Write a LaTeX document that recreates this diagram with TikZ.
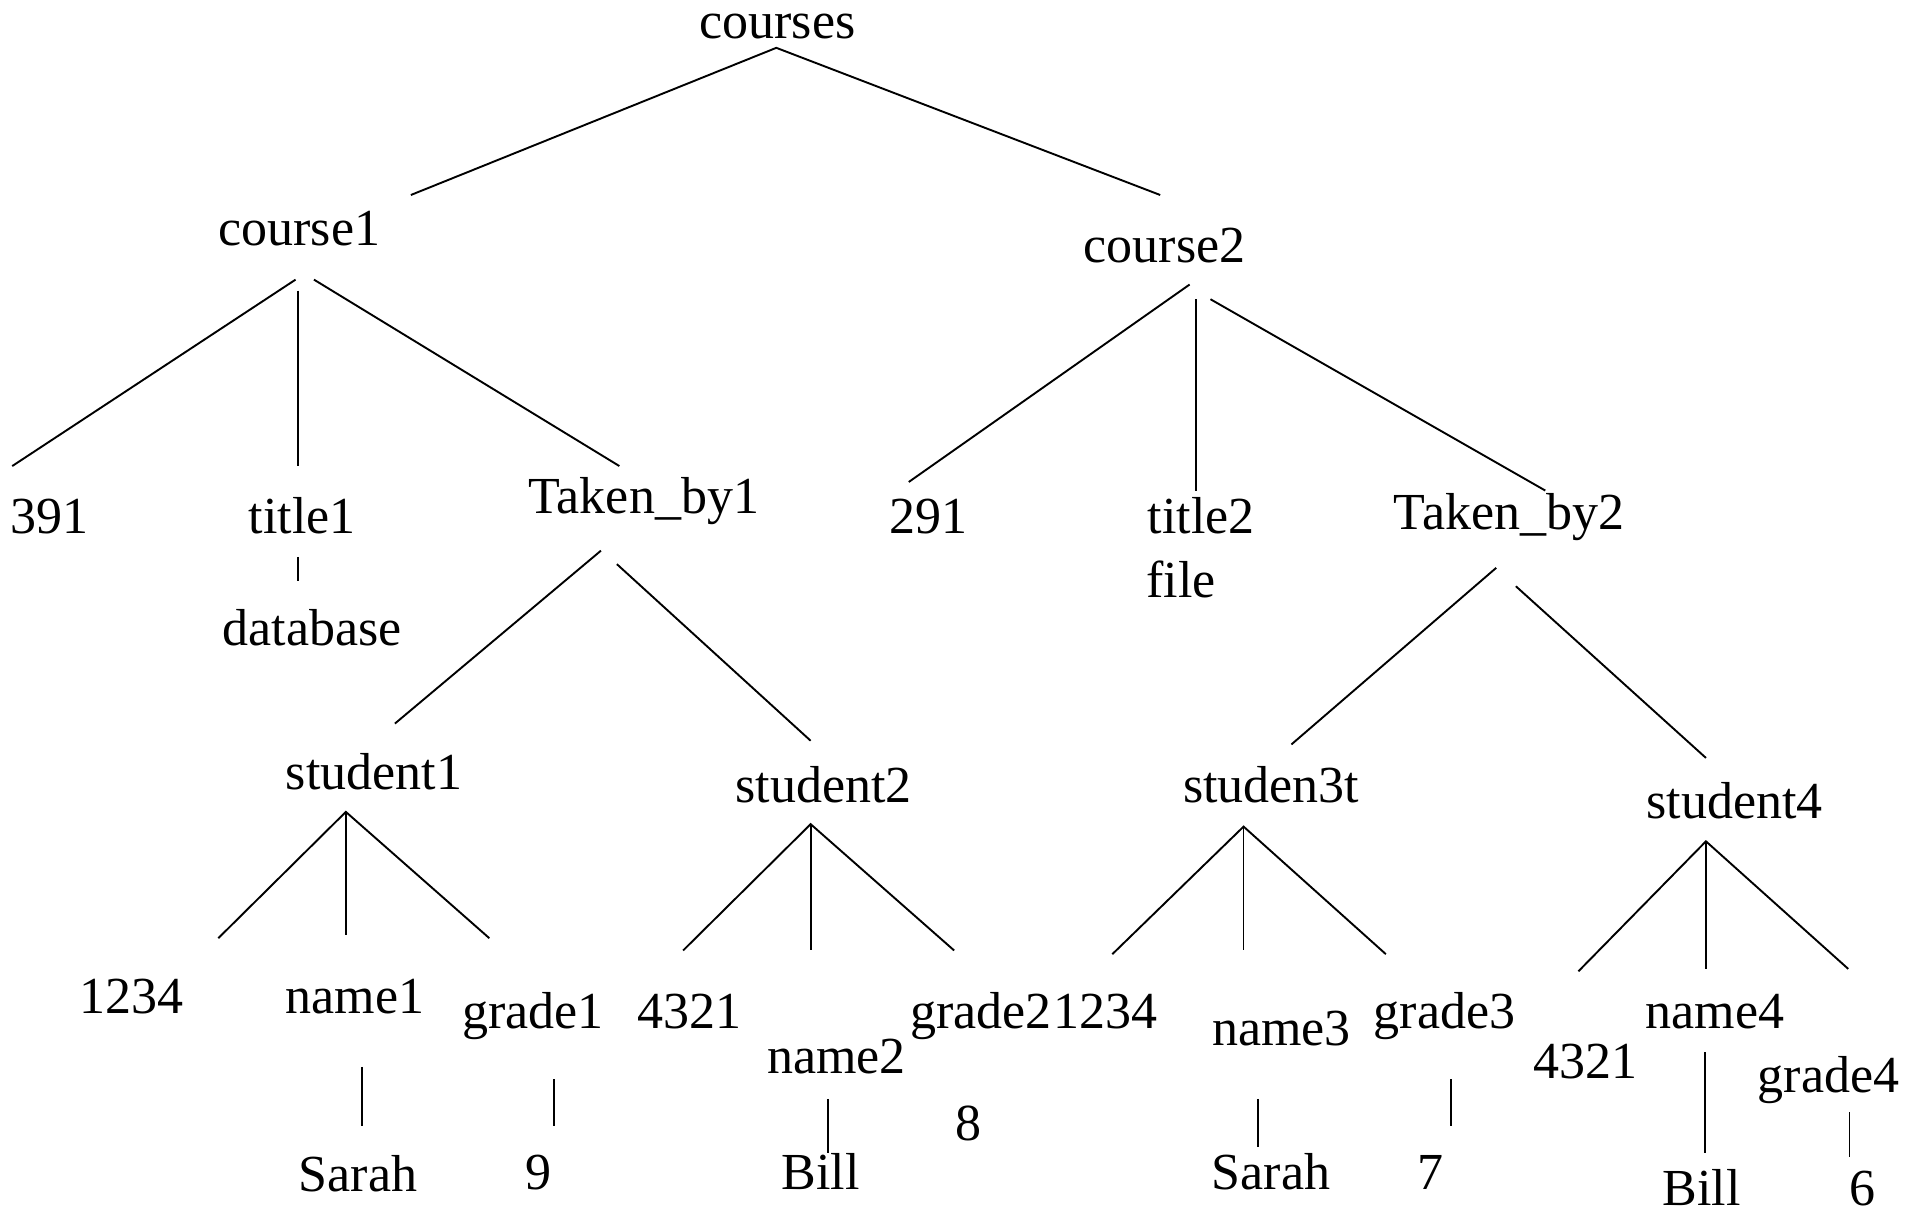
\documentclass[tikz,border=0pt]{standalone}
\usepackage{fontspec}
\setmainfont{Liberation Serif}
\begin{document}
\begin{tikzpicture}[x=1.2264pt,y=-1.2264pt,
  lbl/.style={anchor=base,inner sep=0pt,font=\fontsize{52}{60}\selectfont},
  edge/.style={line width=1.9pt},
  stem/.style={line width=1.8pt}]
\useasboundingbox (0,0) rectangle (1568,988);

% ---- labels ----
\node[lbl] (courses)  at (634,31)    {courses};
\node[lbl] (course1)  at (244,200)   {course1};
\node[lbl] (course2)  at (949.5,214) {course2};
\node[lbl] (c391)     at (40,435)    {391};
\node[lbl] (title1)   at (246.5,435) {title1};
\node[lbl] (database) at (254.5,526) {database};
\node[lbl] (taken1)   at (525,419)   {Taken\_by1};
\node[lbl] (c291)     at (757,435)   {291};
\node[lbl] (title2)   at (979.5,435) {title2};
\node[lbl] (file)     at (963,487)   {file};
\node[lbl] (taken2)   at (1230.5,432){Taken\_by2};
\node[lbl] (student1) at (305,644)   {student1};
\node[lbl] (student2) at (671.5,654) {student2};
\node[lbl] (student3) at (1036.5,654){studen3t};
\node[lbl] (student4) at (1414.5,667.5){student4};
\node[lbl] (id1)      at (107.5,826.5){1234};
\node[lbl] (name1)    at (289.5,826.5){name1};
\node[lbl] (grade1)   at (434.5,839) {grade1};
\node[lbl] (id2)      at (562.5,839) {4321};
\node[lbl] (name2)    at (682,875)   {name2};
\node[lbl] (grade2)   at (800,839)   {grade2};
\node[lbl] (id3)      at (901.5,839) {1234};
\node[lbl] (g2val)    at (790,930)   {8};
\node[lbl] (name3)    at (1045,852.7){name3};
\node[lbl] (grade3)   at (1178,839)  {grade3};
\node[lbl] (id4)      at (1292.5,879){4321};
\node[lbl] (name4)    at (1398.5,839){name4};
\node[lbl] (grade4)   at (1491,891)  {grade4};
\node[lbl] (sarah1)   at (292,971.5) {Sarah};
\node[lbl] (g1val)    at (439,970)   {9};
\node[lbl] (bill1)    at (669,970)   {Bill};
\node[lbl] (sarah2)   at (1036.5,970){Sarah};
\node[lbl] (g3val)    at (1166,970)  {7};
\node[lbl] (bill2)    at (1387.5,983){Bill};
\node[lbl] (g4val)    at (1519,983)  {6};

% ---- line end points ----
\coordinate (courses-o) at (633,39);
\coordinate (course1-i) at (335,159);
\coordinate (course2-i) at (946,159);

\coordinate (course1-l) at (241,228);
\coordinate (course1-m) at (243,237);
\coordinate (course1-r) at (256,228);
\coordinate (c391-i)    at (10,380);
\coordinate (title1-i)  at (243,380);
\coordinate (taken1-i)  at (505,380);
\coordinate (title1-o)  at (243,454);
\coordinate (database-i) at (243,474);

\coordinate (course2-l) at (970,232);
\coordinate (course2-m) at (975,244);
\coordinate (course2-r) at (987,244);
\coordinate (c291-i)    at (741,393);
\coordinate (title2-i)  at (975,400);
\coordinate (taken2-i)  at (1260,400);

\coordinate (taken1-l)  at (490,449);
\coordinate (taken1-r)  at (503,460);
\coordinate (student1-i) at (322,590);
\coordinate (student2-i) at (661,604);

\coordinate (taken2-l)  at (1220,463);
\coordinate (taken2-r)  at (1236,478);
\coordinate (student3-i) at (1053,607);
\coordinate (student4-i) at (1391,618);

\coordinate (student1-o) at (282,662);
\coordinate (id1-i)    at (178,765);
\coordinate (name1-i)  at (282,762);
\coordinate (grade1-i) at (399,765);

\coordinate (student2-o) at (661,672);
\coordinate (id2-i)    at (557,775);
\coordinate (name2-i)  at (661,775);
\coordinate (grade2-i) at (778,775);

\coordinate (student3-o) at (1014,674);
\coordinate (id3-i)    at (907,778);
\coordinate (name3-i)  at (1014,775);
\coordinate (grade3-i) at (1130,778);

\coordinate (student4-o) at (1391,686);
\coordinate (id4-i)    at (1287,792);
\coordinate (name4-i)  at (1391,790);
\coordinate (grade4-i) at (1507,790);

\coordinate (name1-o)  at (295,870);  \coordinate (sarah1-i) at (295,918);
\coordinate (grade1-o) at (452,880);  \coordinate (g1val-i)  at (452,918);
\coordinate (name2-o)  at (675,896);  \coordinate (bill1-i)  at (675,940);
\coordinate (name3-o)  at (1026,896); \coordinate (sarah2-i) at (1026,935);
\coordinate (grade3-o) at (1183,880); \coordinate (g3val-i)  at (1183,918);
\coordinate (name4-o)  at (1390,858); \coordinate (bill2-i)  at (1390,940);
\coordinate (grade4-o) at (1508,907); \coordinate (g4val-i)  at (1508,943);

% ---- tree edges ----
\draw[edge] (course1-i) -- (courses-o) -- (course2-i);
\draw[edge] (course1-l) -- (c391-i);
\draw[stem] (course1-m) -- (title1-i);
\draw[edge] (course1-r) -- (taken1-i);
\draw[edge] (course2-l) -- (c291-i);
\draw[stem] (course2-m) -- (title2-i);
\draw[edge] (course2-r) -- (taken2-i);
\draw[stem] (title1-o) -- (database-i);
\draw[edge] (taken1-l) -- (student1-i);
\draw[edge] (taken1-r) -- (student2-i);
\draw[edge] (taken2-l) -- (student3-i);
\draw[edge] (taken2-r) -- (student4-i);

\draw[edge] (id1-i) -- (student1-o) -- (grade1-i);
\draw[stem] (student1-o) -- (name1-i);
\draw[edge] (id2-i) -- (student2-o) -- (grade2-i);
\draw[stem] (student2-o) -- (name2-i);
\draw[edge] (id3-i) -- (student3-o) -- (grade3-i);
\draw[stem] (student3-o) -- (name3-i);
\draw[edge] (id4-i) -- (student4-o) -- (grade4-i);
\draw[stem] (student4-o) -- (name4-i);

\draw[stem] (name1-o) -- (sarah1-i);
\draw[stem] (grade1-o) -- (g1val-i);
\draw[stem] (name2-o) -- (bill1-i);
\draw[stem] (name3-o) -- (sarah2-i);
\draw[stem] (grade3-o) -- (g3val-i);
\draw[stem] (name4-o) -- (bill2-i);
\draw[stem] (grade4-o) -- (g4val-i);
\end{tikzpicture}
\end{document}
